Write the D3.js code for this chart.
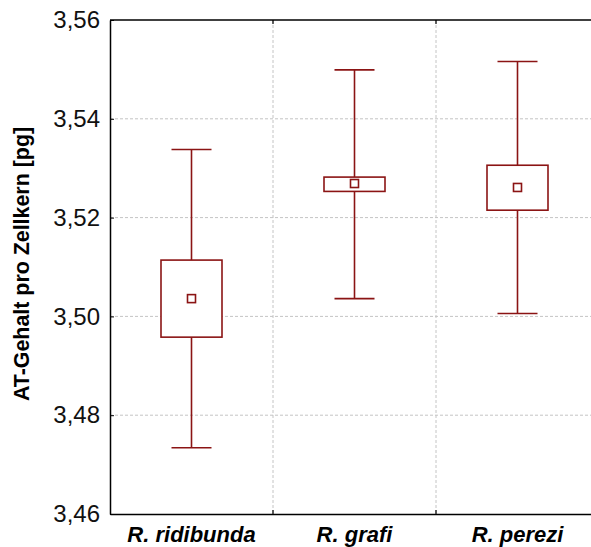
<!DOCTYPE html>
<html>
<head>
<meta charset="utf-8">
<script src="https://cdn.jsdelivr.net/npm/d3@7"></script>
<style>
  body { margin: 0; background: #fff; }
  svg { display: block; font-family: Arial, "Liberation Sans", sans-serif; }
</style>
</head>
<body>
<div id="chart"></div>
<script>
var species = ["R. ridibunda", "R. grafi", "R. perezi"];
var means = [3.5036, 3.5269, 3.5261];
var boxLow = [3.4958, 3.5253, 3.5215];
var boxHigh = [3.5114, 3.5282, 3.5306];
var whiskLow = [3.4734, 3.5036, 3.5006];
var whiskHigh = [3.5338, 3.5499, 3.5516];
var yTicks = [3.46, 3.48, 3.50, 3.52, 3.54, 3.56];

var width = 591, height = 547;
var margin = { top: 20, right: -8, bottom: 33, left: 110 };
var color = "#8b1414";

var svg = d3.select("#chart").append("svg")
  .attr("width", width)
  .attr("height", height);

var x = d3.scaleBand()
  .domain(species)
  .range([margin.left, width - margin.right]);

var y = d3.scaleLinear()
  .domain([3.46, 3.56])
  .range([height - margin.bottom, margin.top]);

var fmt = function(d) { return d3.format(".2f")(d).replace(".", ","); };

// horizontal grid
svg.append("g").selectAll("line")
  .data(yTicks.slice(1, -1))
  .enter().append("line")
  .attr("x1", margin.left).attr("x2", width)
  .attr("y1", d => y(d)).attr("y2", d => y(d))
  .attr("stroke", "#c4c4c4")
  .attr("stroke-dasharray", "3,2");

// vertical grid at category borders
svg.append("g").selectAll("line")
  .data(species.slice(1))
  .enter().append("line")
  .attr("x1", d => x(d)).attr("x2", d => x(d))
  .attr("y1", margin.top).attr("y2", height - margin.bottom)
  .attr("stroke", "#c4c4c4")
  .attr("stroke-dasharray", "3,2");

// frame
var yAxis = d3.axisLeft(y).tickValues(yTicks).tickFormat(fmt).tickSizeInner(-4).tickSizeOuter(0).tickPadding(10);
svg.append("g")
  .attr("transform", "translate(" + margin.left + ",0)")
  .call(yAxis)
  .call(g => g.select(".domain").attr("stroke", "#000").attr("stroke-width", 1.5))
  .call(g => g.selectAll("text").attr("font-size", 24).attr("fill", "#111"))
  .call(g => g.selectAll("line").attr("stroke", "#000"));

var xAxis = d3.axisBottom(x).tickSize(0).tickPadding(12);
svg.append("g")
  .attr("transform", "translate(0," + (height - margin.bottom) + ")")
  .call(xAxis)
  .call(g => g.select(".domain").attr("stroke", "#000").attr("stroke-width", 1.5))
  .call(g => g.selectAll("text")
    .attr("font-size", 22)
    .attr("font-weight", "bold")
    .attr("font-style", "italic")
    .attr("fill", "#000"));

svg.append("line")
  .attr("x1", margin.left).attr("x2", width)
  .attr("y1", margin.top).attr("y2", margin.top)
  .attr("stroke", "#000").attr("stroke-width", 1.5);

// inner ticks at category borders on top and bottom
species.slice(1).forEach(function(s) {
  svg.append("line")
    .attr("x1", x(s)).attr("x2", x(s))
    .attr("y1", margin.top).attr("y2", margin.top + 4)
    .attr("stroke", "#000").attr("stroke-width", 1.2);
  svg.append("line")
    .attr("x1", x(s)).attr("x2", x(s))
    .attr("y1", height - margin.bottom).attr("y2", height - margin.bottom - 4)
    .attr("stroke", "#000").attr("stroke-width", 1.2);
});

// y axis title
svg.append("text")
  .attr("transform", "translate(29,264) rotate(-90)")
  .attr("text-anchor", "middle")
  .attr("font-size", 21.4)
  .attr("font-weight", "bold")
  .text("AT-Gehalt pro Zellkern [pg]");

// boxes
var boxW = 61, capW = 40, markW = 8;
var g = svg.append("g").attr("stroke", color).attr("stroke-width", 1.6).attr("fill", "none");

species.forEach(function(s, i) {
  var cx = x(s) + x.bandwidth() / 2;
  g.append("line")
    .attr("x1", cx).attr("x2", cx)
    .attr("y1", y(whiskHigh[i])).attr("y2", y(boxHigh[i]));
  g.append("line")
    .attr("x1", cx).attr("x2", cx)
    .attr("y1", y(boxLow[i])).attr("y2", y(whiskLow[i]));
  g.append("line")
    .attr("x1", cx - capW / 2).attr("x2", cx + capW / 2)
    .attr("y1", y(whiskHigh[i])).attr("y2", y(whiskHigh[i]));
  g.append("line")
    .attr("x1", cx - capW / 2).attr("x2", cx + capW / 2)
    .attr("y1", y(whiskLow[i])).attr("y2", y(whiskLow[i]));
  g.append("rect")
    .attr("x", cx - boxW / 2)
    .attr("y", y(boxHigh[i]))
    .attr("width", boxW)
    .attr("height", y(boxLow[i]) - y(boxHigh[i]))
    .attr("fill", "#fff");
  g.append("rect")
    .attr("x", cx - markW / 2)
    .attr("y", y(means[i]) - markW / 2)
    .attr("width", markW)
    .attr("height", markW)
    .attr("fill", "#fff");
});
</script>
</body>
</html>
